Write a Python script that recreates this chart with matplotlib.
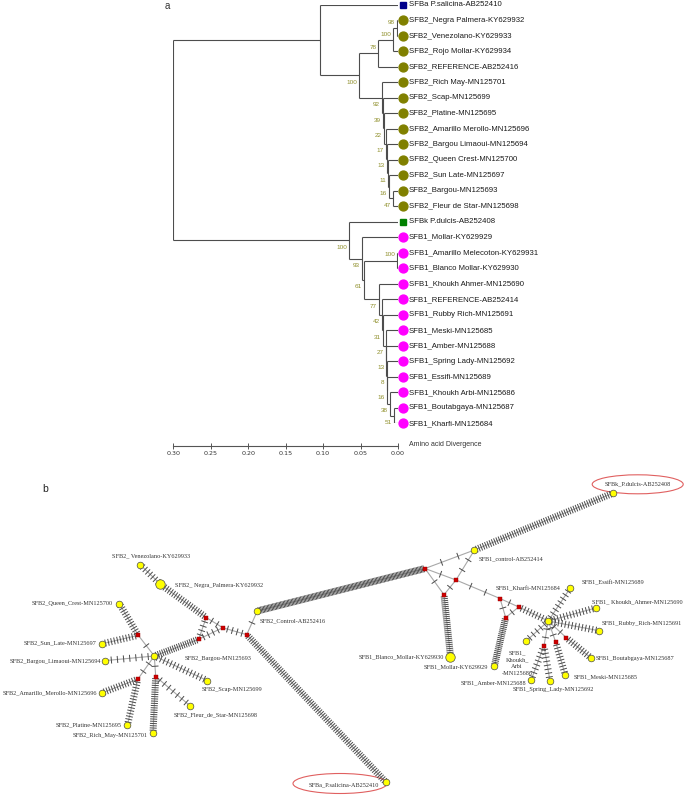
import numpy as np
import matplotlib
matplotlib.use("Agg")
import matplotlib.pyplot as plt
import matplotlib.transforms as mtransforms
from matplotlib.collections import LineCollection
from matplotlib.patches import Ellipse

# ---------------- panel a : tree data ----------------
tips = [
    "SFBa P.salicina-AB252410",
    "SFB2_Negra Palmera-KY629932",
    "SFB2_Venezolano-KY629933",
    "SFB2_Rojo Mollar-KY629934",
    "SFB2_REFERENCE-AB252416",
    "SFB2_Rich May-MN125701",
    "SFB2_Scap-MN125699",
    "SFB2_Platine-MN125695",
    "SFB2_Amarillo Merollo-MN125696",
    "SFB2_Bargou Limaoui-MN125694",
    "SFB2_Queen Crest-MN125700",
    "SFB2_Sun Late-MN125697",
    "SFB2_Bargou-MN125693",
    "SFB2_Fleur de Star-MN125698",
    "SFBk P.dulcis-AB252408",
    "SFB1_Mollar-KY629929",
    "SFB1_Amarillo Melecoton-KY629931",
    "SFB1_Blanco Mollar-KY629930",
    "SFB1_Khoukh Ahmer-MN125690",
    "SFB1_REFERENCE-AB252414",
    "SFB1_Rubby Rich-MN125691",
    "SFB1_Meski-MN125685",
    "SFB1_Amber-MN125688",
    "SFB1_Spring Lady-MN125692",
    "SFB1_Essifi-MN125689",
    "SFB1_Khoukh Arbi-MN125686",
    "SFB1_Boutabgaya-MN125687",
    "SFB1_Kharfi-MN125684",
]
tip_group = ["a"] + ["2"] * 13 + ["k"] + ["1"] * 13

# clade id, upper child, lower child, divergence of node, bootstrap
clades = [
    ("E", 1, 2, 0.001, 98),
    ("D", "E", 3, 0.0067, 100),
    ("C", "D", 4, 0.0263, 78),
    ("M", 12, 13, 0.0063, 47),
    ("L", 11, "M", 0.0124, 16),
    ("K", 10, "L", 0.0133, 11),
    ("J", 9, "K", 0.0151, 13),
    ("I", 8, "J", 0.0160, 17),
    ("H", 7, "I", 0.0187, 22),
    ("G", 6, "H", 0.0204, 39),
    ("F", 5, "G", 0.0217, 92),
    ("B", "C", "F", 0.052, 100),
    ("A", 0, "B", 0.104, None),
    ("Q", 16, 17, 0.001, 100),
    ("Z", 26, 27, 0.0047, 51),
    ("Y", 25, "Z", 0.0107, 38),
    ("X", 24, "Y", 0.0143, 16),
    ("W", 23, "X", 0.0151, 8),
    ("V", 22, "W", 0.0156, 13),
    ("U", 21, "V", 0.0164, 27),
    ("T", 20, "U", 0.0196, 31),
    ("S", 19, "T", 0.0209, 42),
    ("R", 18, "S", 0.0253, 77),
    ("P", "Q", "R", 0.0449, 61),
    ("O", 15, "P", 0.0484, 93),
    ("N", 14, "O", 0.065, 100),
    ("root", "A", "N", 0.30, None),
]
scale_ticks = [0.30, 0.25, 0.20, 0.15, 0.10, 0.05, 0.00]

# ---------------- panel b : haplotype network data ----------------
haplotypes = {
    "Venezolano": (140.0, 564.5, 1),
    "Negra_Palmera": (160.5, 584.3, 2),
    "Queen_Crest": (119.2, 603.5, 1),
    "Sun_Late": (102.5, 643.7, 1),
    "Bargou_Limaoui": (105.2, 660.6, 1),
    "Bargou": (154.3, 656.0, 1),
    "Amarillo_Merollo": (102.0, 692.8, 1),
    "Platine": (127.5, 725.0, 1),
    "Rich_May": (153.0, 732.5, 1),
    "Fleur_de_Star": (190.5, 706.2, 1),
    "Scap": (207.5, 680.7, 1),
    "SFB2_Control": (257.3, 611.0, 1),
    "P.salicina": (386.0, 782.3, 1),
    "SFB1_control": (474.5, 550.0, 1),
    "P.dulcis": (612.7, 493.3, 1),
    "Blanco_Mollar": (450.5, 656.5, 2),
    "Mollar": (494.3, 666.2, 1),
    "Kharfi": (548.3, 621.0, 1),
    "Essifi": (570.5, 587.7, 1),
    "Khoukh_Ahmer": (595.7, 608.0, 1),
    "Rubby_Rich": (599.3, 630.8, 1),
    "Khoukh_Arbi": (526.0, 641.2, 1),
    "Boutabgaya": (591.0, 658.0, 1),
    "Meski": (565.3, 675.2, 1),
    "Amber": (531.0, 680.3, 1),
    "Spring_Lady": (550.0, 681.0, 1),
}
medians = {
    "m1": (206.2, 617.5), "m2": (222.7, 627.7), "m3": (246.7, 634.7),
    "m4": (198.7, 639.3), "m5": (138.3, 635.3), "m6": (137.8, 679.2),
    "m7": (155.7, 676.5), "m8": (425.0, 568.5), "m9": (456.0, 580.0),
    "m10": (444.0, 594.7), "m11": (500.0, 598.5), "m12": (518.7, 607.0),
    "m13": (505.7, 617.5), "m14": (544.0, 645.7), "m15": (555.7, 642.0),
    "m16": (566.3, 637.7),
}
# node, node, number of mutated positions
links = [
    ("Venezolano", "Negra_Palmera", 7), ("Negra_Palmera", "m1", 20),
    ("m1", "m2", 2), ("m1", "m4", 4), ("m2", "m4", 4), ("m2", "m3", 4),
    ("m3", "SFB2_Control", 1), ("m3", "P.salicina", 85),
    ("m4", "Bargou", 20), ("Bargou", "m5", 1), ("m5", "Queen_Crest", 12),
    ("m5", "Sun_Late", 11), ("Bargou", "Bargou_Limaoui", 7),
    ("Bargou", "m6", 2), ("m6", "Amarillo_Merollo", 13), ("m6", "Platine", 15),
    ("Bargou", "m7", 1), ("m7", "Rich_May", 24), ("m7", "Fleur_de_Star", 7),
    ("Bargou", "Scap", 15),
    ("SFB2_Control", "m8", 125), ("m8", "SFB1_control", 2), ("m8", "m9", 1),
    ("m8", "m10", 1), ("m9", "m10", 1), ("m9", "SFB1_control", 2),
    ("SFB1_control", "P.dulcis", 60), ("m10", "Blanco_Mollar", 30),
    ("m9", "m11", 2), ("m11", "m12", 1), ("m11", "m13", 1), ("m12", "m13", 1),
    ("m13", "Mollar", 25), ("m12", "Kharfi", 9),
    ("Kharfi", "Essifi", 8), ("Kharfi", "Khoukh_Ahmer", 14),
    ("Kharfi", "Rubby_Rich", 14), ("Kharfi", "Khoukh_Arbi", 5),
    ("Kharfi", "m14", 2), ("m14", "Amber", 8), ("m14", "Spring_Lady", 8),
    ("Kharfi", "m15", 2), ("m15", "Meski", 10),
    ("Kharfi", "m16", 2), ("m16", "Boutabgaya", 10),
]
net_labels = [
    ("SFB2_ Venezolano-KY629933", 151, 556, "center"),
    ("SFB2_ Negra_Palmera-KY629932", 175, 585, "left"),
    ("SFB2_Queen_Crest-MN125700", 113, 603, "right"),
    ("SFB2_Sun_Late-MN125697", 96, 643, "right"),
    ("SFB2_Bargou_Limaoui-MN125694", 101, 661, "right"),
    ("SFB2_Amarillo_Merollo-MN125696", 97, 693, "right"),
    ("SFB2_Platine-MN125695", 122, 725, "right"),
    ("SFB2_Rich_May-MN125701", 148, 735, "right"),
    ("SFB2_Fleur_de_Star-MN125698", 216, 715, "center"),
    ("SFB2_Scap-MN125699", 202, 690, "left"),
    ("SFB2_Bargou-MN125693", 185, 658.5, "left"),
    ("SFB2_Control-AB252416", 260, 620.5, "left"),
    ("SFBa_P.salicina-AB252410", 379, 785, "right"),
    ("SFBk_P.dulcis-AB252408", 605, 484.3, "left"),
    ("SFB1_control-AB252414", 479, 558.7, "left"),
    ("SFB1_Kharfi-MN125684", 496, 588.7, "left"),
    ("SFB1_Essifi-MN125689", 582, 582.7, "left"),
    ("SFB1_ Khoukh_Ahmer-MN125690", 592, 601.5, "left"),
    ("SFB1_Rubby_Rich-MN125691", 602, 624, "left"),
    ("SFB1_Blanco_Mollar-KY629930", 444, 656.5, "right"),
    ("SFB1_Mollar-KY629929", 488, 667, "right"),
    ("SFB1_\nKhoukh_\nArbi\n-MN125686", 517, 663, "center"),
    ("SFB1_Amber-MN125688", 526, 683, "right"),
    ("SFB1_Spring_Lady-MN125692", 553, 690, "center"),
    ("SFB1_Meski-MN125685", 574, 677, "left"),
    ("SFB1_Boutabgaya-MN125687", 596, 658.3, "left"),
]

W, H = 685, 796
fig = plt.figure(figsize=(W / 100, H / 100), dpi=100)

# full-figure axes in pixel space for panel b and panel letters
axb = fig.add_axes([0, 0, 1, 1])
axb.set_xlim(0, W)
axb.set_ylim(H, 0)
axb.axis("off")

# ---------------- draw tree ----------------
y_top, y_bot = 4.7, 423.3
axa = fig.add_axes([173.3 / W, 1 - y_bot / H, (398 - 173.3) / W, (y_bot - y_top) / H])
axa.set_xlim(0.30, 0.0)
axa.set_ylim(len(tips) - 1, 0)
for s in ["top", "left", "right"]:
    axa.spines[s].set_visible(False)
axa.spines["bottom"].set_position(("outward", 16.1))
axa.spines["bottom"].set_color("#555555")
axa.spines["bottom"].set_linewidth(0.8)
axa.set_yticks([])
axa.set_xticks(scale_ticks)
axa.set_xticklabels(["%.2f" % t for t in scale_ticks])
axa.tick_params(axis="x", direction="inout", length=5, width=0.7, color="#555555",
                labelsize=4.6, labelcolor="#333333", pad=1.5)
axa.patch.set_visible(False)

ypos = {i: float(i) for i in range(len(tips))}
xpos = {i: 0.0 for i in range(len(tips))}
parent = {}
for cid, up, low, h, bs in clades:
    ypos[cid] = (ypos[up] + ypos[low]) / 2
    xpos[cid] = h
    parent[up] = (cid, "up")
    parent[low] = (cid, "low")

branch = "#4d4d4d"
for cid, up, low, h, bs in clades:
    axa.plot([h, h], [ypos[up], ypos[low]], color=branch, lw=0.8, solid_capstyle="butt")
    for ch in (up, low):
        axa.plot([xpos[ch], h], [ypos[ch], ypos[ch]], color=branch, lw=0.8,
                 solid_capstyle="butt")
    if bs is not None:
        side = parent.get(cid, (None, "low"))[1]
        dy = 4.0 if side == "up" else -5.0
        axa.annotate(str(bs), xy=(h, ypos[cid]), xytext=(-1.5, dy),
                     textcoords="offset points", ha="right", va="center",
                     fontsize=4.6, color="#8f8f2a", family="Liberation Sans")

mark_tr = axa.transData + mtransforms.ScaledTranslation(5 / 100, 0, fig.dpi_scale_trans)
group_style = {"2": ("o", "#808000", 6.4), "1": ("o", "#ff00ff", 6.4),
               "a": ("s", "#00008b", 5.0), "k": ("s", "#008000", 5.0)}
for i, name in enumerate(tips):
    m, c, ms = group_style[tip_group[i]]
    axa.plot([0], [i], marker=m, color=c, ms=ms, mec=c, transform=mark_tr, clip_on=False)
    axa.annotate(name, xy=(0, i), xytext=(7.9, 0), textcoords="offset points",
                 ha="left", va="center", fontsize=5.6, color="#1a1a1a",
                 family="Liberation Sans")

fig.text(409 / W, 1 - 444 / H, "Amino acid Divergence", fontsize=5.0, color="#333333",
         ha="left", va="center", family="Liberation Sans")
axb.text(167, 6, "a", fontsize=7, ha="center", va="center", color="#333333",
         family="Liberation Sans")
axb.text(45, 489, "b", fontsize=7.5, ha="center", va="center", color="#222222",
         family="Liberation Sans")

# ---------------- draw network ----------------
pos = {k: (v[0], v[1]) for k, v in haplotypes.items()}
pos.update(medians)

edge_segs, mark_segs = [], []
for a, b, n in links:
    p = np.array(pos[a])
    q = np.array(pos[b])
    d = q - p
    L = np.hypot(d[0], d[1])
    u = d / L
    perp = np.array([-u[1], u[0]])
    edge_segs.append([p, q])
    for k in range(n):
        c = p + d * (k + 1) / (n + 1)
        mark_segs.append([c - perp * 3.5, c + perp * 3.5])

axb.add_collection(LineCollection(edge_segs, colors="#a8a8a8", linewidths=0.8, zorder=1))
axb.add_collection(LineCollection(mark_segs, colors="#4a4a4a", linewidths=0.7, zorder=2))

for name, (x, y, sz) in haplotypes.items():
    axb.plot(x, y, "o", ms=4.8 if sz == 1 else 6.8, mfc="#ffff00", mec="#4a4a4a",
             mew=0.5, zorder=4)
for name, (x, y) in medians.items():
    axb.plot(x, y, "s", ms=2.2, mfc="#cc0000", mec="#990000", mew=0.3, zorder=4)

for txt, x, y, ha in net_labels:
    axb.text(x, y, txt, ha=ha, va="center", fontsize=4.5, color="#333333",
             family="Liberation Serif", linespacing=1.45)

axb.add_patch(Ellipse((637.7, 484.3), 91, 19, fill=False, ec="#e06060", lw=0.8))
axb.add_patch(Ellipse((340, 783.5), 94, 20, fill=False, ec="#e06060", lw=0.8))

fig.savefig("out.png", dpi=100)
